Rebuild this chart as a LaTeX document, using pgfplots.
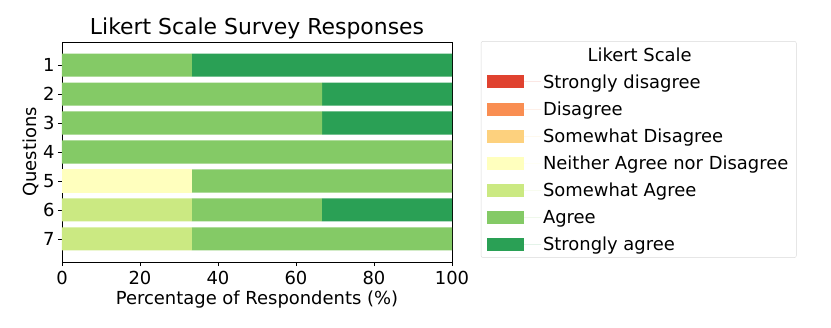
\documentclass[border=0pt]{standalone}
\usepackage{fontspec}
\setmainfont{DejaVu Sans}
\usepackage{pgfplots}
\pgfplotsset{compat=1.18}
\definecolor{sdis}{HTML}{E0422F}
\definecolor{dis}{HTML}{F98E52}
\definecolor{swdis}{HTML}{FDD17E}
\definecolor{neut}{HTML}{FFFFBE}
\definecolor{swagr}{HTML}{CBE982}
\definecolor{agr}{HTML}{84CA66}
\definecolor{sagr}{HTML}{2AA055}

\pgfplotsset{likertbox/.style={legend image code/.code={%
  \fill[##1, sharp corners] (0bp,-6.5bp) rectangle (37bp,6.5bp);
  \path (0bp,0bp) -- (54bp,0bp);}}}

\begin{document}
\begin{tikzpicture}
\begin{axis}[
  scale only axis,
  width=390bp, height=220bp,
  xbar stacked,
  bar width=0.8,
  xmin=0, xmax=100,
  ymin=0.2, ymax=7.8,
  y dir=reverse,
  ytick={1,2,3,4,5,6,7},
  xtick={0,20,40,60,80,100},
  tick align=outside,
  major tick length=4bp,
  xtick pos=bottom, ytick pos=left,
  tick style={black, line width=0.6pt},
  axis line style={line width=0.6pt},
  /pgf/number format/assume math mode=true,
  ticklabel style={font=\fontsize{18}{21}\selectfont},
  xticklabel style={yshift=-2bp},
  label style={font=\fontsize{18}{21}\selectfont},
  xlabel={Percentage of Respondents (\%)},
  ylabel={Questions},
  xlabel style={yshift=1bp},
  ylabel style={yshift=-3bp},
  title={Likert Scale Survey Responses},
  title style={font=\fontsize{22}{26}\selectfont, yshift=-7bp},
  clip=false,
  legend cell align=left,
  legend style={
    at={(rel axis cs:1.074,1.004)}, anchor=north west,
    draw=black!15, rounded corners=2bp,
    font=\fontsize{18}{21}\selectfont,
    row sep=8bp, inner xsep=6bp, inner ysep=4bp,
  },
]
\addlegendimage{empty legend}
\addlegendentry{\phantom{Likert}}
\addplot[fill=sdis, draw=none, likertbox] coordinates {(0,1) (0,2) (0,3) (0,4) (0,5) (0,6) (0,7)};
\addlegendentry{Strongly disagree}
\addplot[fill=dis, draw=none, likertbox] coordinates {(0,1) (0,2) (0,3) (0,4) (0,5) (0,6) (0,7)};
\addlegendentry{Disagree}
\addplot[fill=swdis, draw=none, likertbox] coordinates {(0,1) (0,2) (0,3) (0,4) (0,5) (0,6) (0,7)};
\addlegendentry{Somewhat Disagree}
\addplot[fill=neut, draw=none, likertbox] coordinates {(0,1) (0,2) (0,3) (0,4) (33.33,5) (0,6) (0,7)};
\addlegendentry{Neither Agree nor Disagree}
\addplot[fill=swagr, draw=none, likertbox] coordinates {(0,1) (0,2) (0,3) (0,4) (0,5) (33.33,6) (33.33,7)};
\addlegendentry{Somewhat Agree}
\addplot[fill=agr, draw=none, likertbox] coordinates {(33.33,1) (66.67,2) (66.67,3) (100,4) (66.67,5) (33.33,6) (66.67,7)};
\addlegendentry{Agree}
\addplot[fill=sagr, draw=none, likertbox] coordinates {(66.67,1) (33.33,2) (33.33,3) (0,4) (0,5) (33.34,6) (0,7)};
\addlegendentry{Strongly agree}
\coordinate (lt) at (rel axis cs:1.481,0.942);
\end{axis}
\node[font=\fontsize{18}{21}\selectfont] at (lt) {Likert Scale};
\pgfresetboundingbox
\path (current axis.south west) ++(-62bp,-66bp) rectangle ++(831bp,328bp);
\end{tikzpicture}
\end{document}
